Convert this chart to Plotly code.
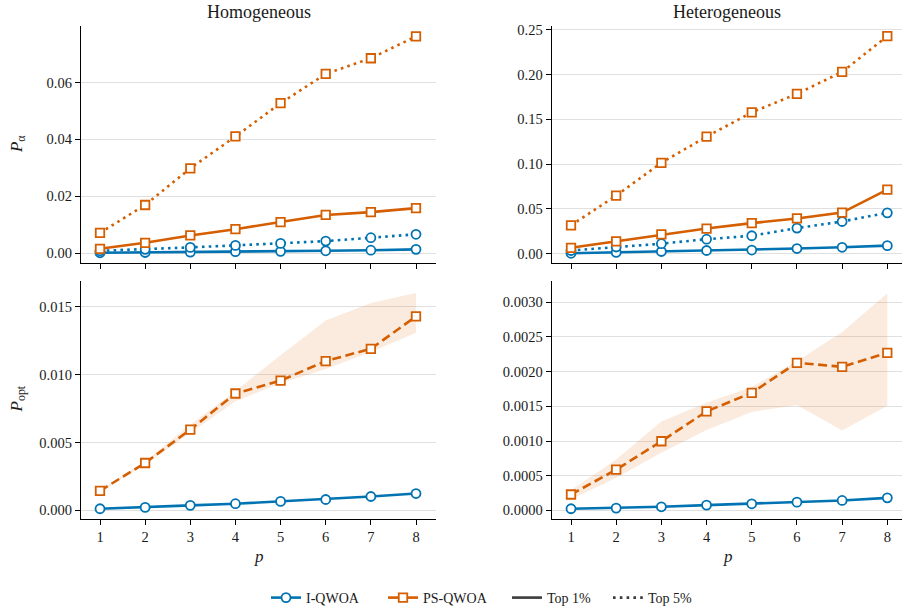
import plotly.graph_objects as go

p = [1, 2, 3, 4, 5, 6, 7, 8]

# P_alpha, homogeneous
hom_i_top1 = [0.0001, 0.0002, 0.0003, 0.0005, 0.0006, 0.0008, 0.0010, 0.0013]
hom_i_top5 = [0.0008, 0.0013, 0.0020, 0.0027, 0.0034, 0.0042, 0.0054, 0.0066]
hom_ps_top1 = [0.0015, 0.0036, 0.0062, 0.0084, 0.0109, 0.0134, 0.0144, 0.0158]
hom_ps_top5 = [0.0071, 0.0169, 0.0298, 0.0410, 0.0527, 0.0630, 0.0685, 0.0762]

# P_alpha, heterogeneous
het_i_top1 = [0.0004, 0.0014, 0.0024, 0.0035, 0.0040, 0.0057, 0.0071, 0.0089]
het_i_top5 = [0.0035, 0.0074, 0.0111, 0.0161, 0.0200, 0.0285, 0.0359, 0.0456]
het_ps_top1 = [0.0065, 0.0138, 0.0215, 0.0280, 0.0341, 0.0393, 0.0459, 0.0715]
het_ps_top5 = [0.0316, 0.0648, 0.1015, 0.1307, 0.1578, 0.1785, 0.2030, 0.2430]

# P_opt
hom_opt_i = [0.00012, 0.00022, 0.00037, 0.00049, 0.00066, 0.00080, 0.00102, 0.00124]
hom_opt_ps = [0.00144, 0.00349, 0.00595, 0.00861, 0.00956, 0.01100, 0.01190, 0.01429]
hom_opt_ps_lo = [0.00138, 0.00338, 0.00570, 0.00803, 0.00937, 0.01041, 0.01167, 0.01308]
hom_opt_ps_hi = [0.00150, 0.00362, 0.00630, 0.00880, 0.01143, 0.01398, 0.01527, 0.01602]

het_opt_i = [0.000024, 0.000033, 0.000052, 0.000076, 0.000095, 0.000119, 0.000143, 0.000181]
het_opt_ps = [0.000229, 0.000587, 0.000997, 0.001427, 0.001694, 0.002128, 0.002070, 0.002271]
het_opt_ps_lo = [0.00016, 0.00047, 0.00083, 0.00116, 0.00142, 0.00152, 0.00115, 0.00151]
het_opt_ps_hi = [0.00029, 0.000735, 0.00128, 0.00155, 0.00178, 0.00215, 0.00257, 0.00313]

BLUE = "#0173B2"
ORANGE = "#D55E00"
GRAY = "#3c3c3c"
FONT = "Liberation Serif"
W, H = 902, 614

fig = go.Figure()


def line(x, y, color, symbol, dash, ax, width=2.6):
    fig.add_trace(go.Scatter(
        x=x, y=y, mode="lines+markers", showlegend=False,
        line=dict(color=color, width=width, dash=dash),
        marker=dict(symbol=symbol, size=9 if symbol == "circle" else 8.5,
                    color="white", line=dict(color=color, width=1.8)),
        xaxis="x" + ax, yaxis="y" + ax))


def band(x, lo, hi, ax):
    fig.add_trace(go.Scatter(x=x, y=lo, mode="lines", line=dict(width=0),
                             showlegend=False, hoverinfo="skip",
                             xaxis="x" + ax, yaxis="y" + ax))
    fig.add_trace(go.Scatter(x=x, y=hi, mode="lines", line=dict(width=0),
                             fill="tonexty", fillcolor="rgba(222,110,20,0.14)",
                             showlegend=False, hoverinfo="skip",
                             xaxis="x" + ax, yaxis="y" + ax))


DOT = "2.6px,4.2px"
DASH = "9px,4.5px"

# top-left
line(p, hom_i_top1, BLUE, "circle", "solid", "")
line(p, hom_i_top5, BLUE, "circle", DOT, "")
line(p, hom_ps_top1, ORANGE, "square", "solid", "")
line(p, hom_ps_top5, ORANGE, "square", DOT, "")
# top-right
line(p, het_i_top1, BLUE, "circle", "solid", "2")
line(p, het_i_top5, BLUE, "circle", DOT, "2")
line(p, het_ps_top1, ORANGE, "square", "solid", "2")
line(p, het_ps_top5, ORANGE, "square", DOT, "2")
# bottom-left
band(p, hom_opt_ps_lo, hom_opt_ps_hi, "3")
line(p, hom_opt_i, BLUE, "circle", "solid", "3")
line(p, hom_opt_ps, ORANGE, "square", DASH, "3")
# bottom-right
band(p, het_opt_ps_lo, het_opt_ps_hi, "4")
line(p, het_opt_i, BLUE, "circle", "solid", "4")
line(p, het_opt_ps, ORANGE, "square", DASH, "4")

# legend entries
fig.add_trace(go.Scatter(x=[None], y=[None], mode="lines+markers", name="I-QWOA",
                         line=dict(color=BLUE, width=2.6),
                         marker=dict(symbol="circle", size=9, color="white",
                                     line=dict(color=BLUE, width=1.8)),
                         legend="legend"))
fig.add_trace(go.Scatter(x=[None], y=[None], mode="lines+markers", name="PS-QWOA",
                         line=dict(color=ORANGE, width=2.6),
                         marker=dict(symbol="square", size=8.5, color="white",
                                     line=dict(color=ORANGE, width=1.8)),
                         legend="legend"))
fig.add_trace(go.Scatter(x=[None], y=[None], mode="lines", name="Top 1%",
                         line=dict(color=GRAY, width=2.6), legend="legend2"))
fig.add_trace(go.Scatter(x=[None], y=[None], mode="lines", name="Top 5%",
                         line=dict(color=GRAY, width=2.6, dash=DOT), legend="legend2"))

xl = [81 / W, 436 / W]
xr = [551.7 / W, 1.0]
yt = [1 - 261 / H, 1 - 21.7 / H]
yb = [1 - 518.3 / H, 1 - 279.3 / H]

tickfont = dict(family=FONT, size=14.5, color="#1a1a1a")
common_x = dict(showline=True, linecolor="black", linewidth=1.3, ticks="outside",
                ticklen=5, tickwidth=1.2, tickcolor="black", showgrid=False,
                zeroline=False, tickvals=p, tickfont=tickfont)
common_y = dict(showline=True, linecolor="black", linewidth=1.3, ticks="outside",
                ticklen=5, tickwidth=1.2, tickcolor="black", showgrid=True,
                gridcolor="#e0e0e0", gridwidth=1.2, zeroline=False, tickfont=tickfont)

legfont = dict(family=FONT, size=14, color="#1a1a1a")
fig.update_layout(
    width=W, height=H, margin=dict(l=0, r=0, t=0, b=0),
    paper_bgcolor="white", plot_bgcolor="white",
    font=dict(family=FONT, color="#1a1a1a"),
    xaxis=dict(domain=xl, anchor="y", range=[0.579, 8.443], showticklabels=False, **common_x),
    yaxis=dict(domain=yt, anchor="x", range=[-0.0036, 0.0800], tickvals=[0, 0.02, 0.04, 0.06],
               tickformat=".2f", **common_y),
    xaxis2=dict(domain=xr, anchor="y2", range=[0.573, 8.325], showticklabels=False, **common_x),
    yaxis2=dict(domain=yt, anchor="x2", range=[-0.0108, 0.2548],
                tickvals=[0, 0.05, 0.10, 0.15, 0.20, 0.25], tickformat=".2f", **common_y),
    xaxis3=dict(domain=xl, anchor="y3", range=[0.579, 8.443], **common_x),
    yaxis3=dict(domain=yb, anchor="x3", range=[-0.00063, 0.01686],
                tickvals=[0, 0.005, 0.010, 0.015], tickformat=".3f", **common_y),
    xaxis4=dict(domain=xr, anchor="y4", range=[0.573, 8.325], **common_x),
    yaxis4=dict(domain=yb, anchor="x4", range=[-0.000123, 0.0033],
                tickvals=[0, 0.0005, 0.0010, 0.0015, 0.0020, 0.0025, 0.0030],
                tickformat=".4f", **common_y),
    legend=dict(orientation="h", x=266 / W, xanchor="left", y=1 - 598 / H, yanchor="middle",
                font=legfont, traceorder="normal",
                entrywidth=72, entrywidthmode="pixels", bgcolor="rgba(0,0,0,0)",
                itemclick=False),
    legend2=dict(orientation="h", x=507 / W, xanchor="left", y=1 - 598 / H, yanchor="middle",
                 font=legfont, traceorder="normal",
                 entrywidth=56, entrywidthmode="pixels", bgcolor="rgba(0,0,0,0)",
                 itemclick=False),
)

ann = [
    dict(text="Homogeneous", x=(xl[0] + xl[1]) / 2, y=1 - 8 / H, size=18, angle=0),
    dict(text="Heterogeneous", x=(xr[0] + xr[1]) / 2, y=1 - 8 / H, size=18, angle=0),
    dict(text="<i>P</i><sub>α</sub>", x=18 / W, y=1 - 141 / H, size=17, angle=-90),
    dict(text="<i>P</i><sub>opt</sub>", x=18 / W, y=1 - 398 / H, size=17, angle=-90),
    dict(text="<i>p</i>", x=(xl[0] + xl[1]) / 2, y=1 - 556 / H, size=17, angle=0),
    dict(text="<i>p</i>", x=728 / W, y=1 - 556 / H, size=17, angle=0),
]
for a in ann:
    fig.add_annotation(text=a["text"], x=a["x"], y=a["y"], xref="paper", yref="paper",
                       xanchor="center", yanchor="middle", showarrow=False,
                       textangle=a["angle"],
                       font=dict(family=FONT, size=a["size"], color="#1a1a1a"))

fig.write_html("out.html")
